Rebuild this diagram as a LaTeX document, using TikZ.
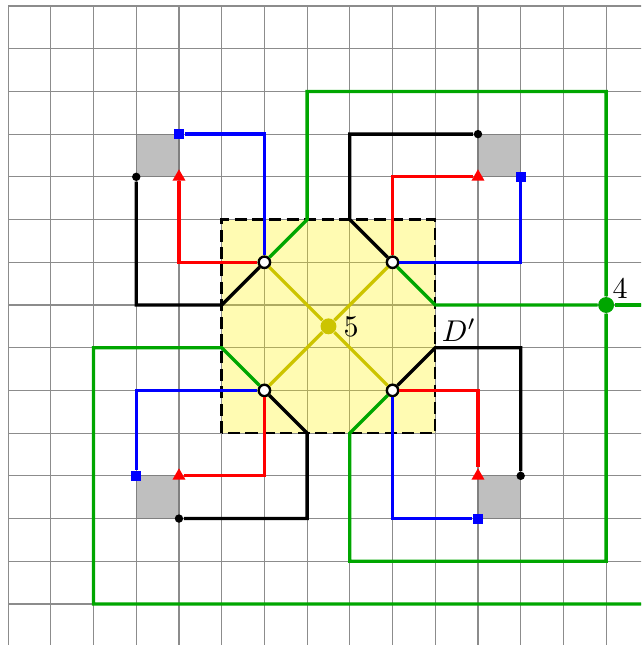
\documentclass[tikz,border=0pt]{standalone}
\usepackage{xcolor}
\definecolor{pgreen}{RGB}{0,166,0}
\definecolor{pyellow}{RGB}{204,196,0}
\usetikzlibrary{shapes.geometric}

\begin{document}
\begin{tikzpicture}[x=0.5cm,y=0.5cm,
  wdot/.style={circle,draw,fill=white,line width=0.8pt,inner sep=0pt,minimum size=3.8pt},
  bdot/.style={circle,fill=black,inner sep=0pt,minimum size=2.8pt},
  bsq/.style={rectangle,fill=blue,inner sep=0pt,minimum size=3.3pt},
  rtri/.style={regular polygon,regular polygon sides=3,fill=red,inner sep=0pt,minimum size=5pt},
  hub/.style={circle,fill=#1,inner sep=0pt,minimum size=5.3pt},
  patch/.style={draw=gray,fill=gray!50},
  zone/.style={draw=black,thick,dash pattern=on 4pt off 1.8pt,fill=yellow,fill opacity=0.3,draw opacity=1},
  wire/.style={line width=1.1pt}
]
  \useasboundingbox (-0.19,0.04) rectangle (14.82,15.14);
  \clip (-0.19,0.04) rectangle (14.82,15.14);

  % Grid and patches
  \draw[gray!90,step=0.5cm] (0,0) grid (15,15);
  \filldraw[patch] (3,11) rectangle (4,12);
  \filldraw[patch] (11,11) rectangle (12,12);
  \filldraw[patch] (3,3) rectangle (4,4);
  \filldraw[patch] (11,3) rectangle (12,4);
  \filldraw[zone] (5,5) rectangle (10,10);

  % Vertices
  \node[hub=pyellow] (ctr) at (7.5,7.5) {};
  \node[right,inner sep=2pt] (lab5) at (ctr.east) {5};
  \node[hub=pgreen] (v4) at (14,8) {};
  \node[above right,inner sep=2pt] (lab4) at (v4.center) {4};
  \node[above right,inner sep=2pt] (labD) at (10,7) {$D'$};

  \node[wdot] (cNW) at (6,9) {};
  \node[wdot] (cNE) at (9,9) {};
  \node[wdot] (cSW) at (6,6) {};
  \node[wdot] (cSE) at (9,6) {};

  \node[bsq] (sqNW) at (4,12) {};
  \node[rtri] (triNW) at (4,11) {};
  \node[bdot] (dotNW) at (3,11) {};
  \node[bdot] (dotNE) at (11,12) {};
  \node[rtri] (triNE) at (11,11) {};
  \node[bsq] (sqNE) at (12,11) {};
  \node[bsq] (sqSW) at (3,4) {};
  \node[rtri] (triSW) at (4,4) {};
  \node[bdot] (dotSW) at (4,3) {};
  \node[rtri] (triSE) at (11,4) {};
  \node[bdot] (dotSE) at (12,4) {};
  \node[bsq] (sqSE) at (11,3) {};

  % Diagonals to the centre
  \draw[wire,pyellow] (ctr) -- (cNW);
  \draw[wire,pyellow] (ctr) -- (cNE);
  \draw[wire,pyellow] (ctr) -- (cSW);
  \draw[wire,pyellow] (ctr) -- (cSE);

  % Top left
  \draw[wire,blue] (cNW) |- (sqNW);
  \draw[wire,red] (cNW) -| (triNW);
  \draw[wire] (cNW) -- (5,8) -| (dotNW);
  \draw[wire,pgreen] (cNW) -- (7,10) -- (7,13) -| (v4);

  % Top right
  \draw[wire] (cNE) -- (8,10) |- (dotNE);
  \draw[wire,red] (cNE) |- (triNE);
  \draw[wire,blue] (cNE) -| (sqNE);
  \draw[wire,pgreen] (cNE) -- (10,8) -- (v4);
  \draw[wire,pgreen] (v4) -- (15,8);

  % Bottom left
  \draw[wire,blue] (cSW) -| (sqSW);
  \draw[wire,red] (cSW) |- (triSW);
  \draw[wire] (cSW) -- (7,5) |- (dotSW);
  \draw[wire,pgreen] (cSW) -- (5,7) -- (2,7) -- (2,1) -- (15,1);

  % Bottom right
  \draw[wire,red] (cSE) -| (triSE);
  \draw[wire,blue] (cSE) |- (sqSE);
  \draw[wire] (cSE) -- (10,7) -| (dotSE);
  \draw[wire,pgreen] (cSE) -- (8,5) -- (8,2) -| (v4);
\end{tikzpicture}
\end{document}
